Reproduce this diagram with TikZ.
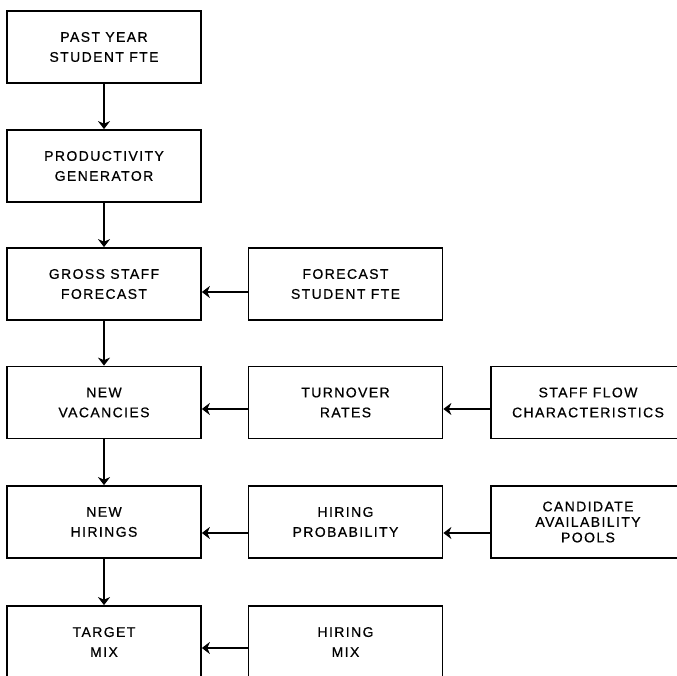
\documentclass[tikz,border=0pt]{standalone}
\usepackage{fontspec}
\setmainfont{Liberation Sans}[LetterSpace=10, FakeBold=0.6]
\usetikzlibrary{arrows.meta}
\tikzset{
  blk/.style={draw, line width=1.7pt, rectangle, minimum width=194pt, minimum height=72pt,
    inner sep=0pt, align=center, font=\fontsize{14}{20}\selectfont},
  arr/.style={line width=1.6pt, -{Stealth[length=8pt,width=12pt,inset=2.5pt]}}
}
\begin{document}
\begin{tikzpicture}[x=1pt,y=1pt]
\clip (0,0) rectangle (677,675);
% main column
\node[blk] (past) at (104,628) {PAST YEAR\\STUDENT FTE};
\node[blk] (prod) at (104,509) {PRODUCTIVITY\\GENERATOR};
\node[blk] (gross) at (104,391) {GROSS STAFF\\FORECAST};
\node[blk] (vac) at (104,272.5) {NEW\\VACANCIES};
\node[blk] (hire) at (104,153) {NEW\\HIRINGS};
\node[blk] (target) at (104,33) {TARGET\\MIX};
% second column
\node[blk] (fcst) at (345.5,391) {FORECAST\\STUDENT FTE};
\node[blk] (turn) at (345.5,272.5) {TURNOVER\\RATES};
\node[blk] (prob) at (345.5,153) {HIRING\\PROBABILITY};
\node[blk] (hmix) at (345.5,33) {HIRING\\MIX};
% third column
\node[blk] (flow) at (588,272.5) {STAFF FLOW\\CHARACTERISTICS};
\node[blk, font=\fontsize{14}{15.5}\selectfont] (pool) at (588,153) {CANDIDATE\\AVAILABILITY\\POOLS};
% vertical flow
\draw[arr] (past) -- (prod);
\draw[arr] (prod) -- (gross);
\draw[arr] (gross) -- (vac);
\draw[arr] (vac) -- (hire);
\draw[arr] (hire) -- (target);
% inputs from the right
\draw[arr] ([yshift=-8pt]fcst.west) -- ([yshift=-8pt]gross.east);
\draw[arr] ([yshift=-6.5pt]turn.west) -- ([yshift=-6.5pt]vac.east);
\draw[arr] ([yshift=-11pt]prob.west) -- ([yshift=-11pt]hire.east);
\draw[arr] ([yshift=-6pt]hmix.west) -- ([yshift=-6pt]target.east);
\draw[arr] ([yshift=-6.5pt]flow.west) -- ([yshift=-6.5pt]turn.east);
\draw[arr] ([yshift=-11pt]pool.west) -- ([yshift=-11pt]prob.east);
\end{tikzpicture}
\end{document}
